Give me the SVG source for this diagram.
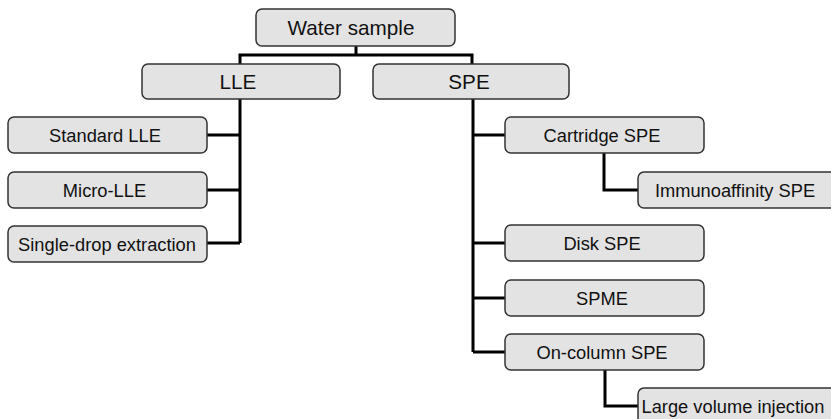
<svg xmlns="http://www.w3.org/2000/svg" width="831" height="419" viewBox="0 0 831 419">
  <style>
    .box { fill: #e3e3e3; stroke: #333333; stroke-width: 1.5; }
    .wire { fill: none; stroke: #000000; stroke-width: 3; stroke-linejoin: miter; stroke-linecap: butt; }
    text { font-family: "Liberation Sans", Arial, sans-serif; fill: #111111; text-anchor: middle; }
    .big { font-size: 20.7px; }
    .small { font-size: 18.3px; }
  </style>
  <rect width="831" height="419" fill="#ffffff"/>

  <!-- connectors -->
  <g id="connectors" class="wire">
    <path d="M356 46 V55"/>
    <path d="M240 64 V55 H472 V64"/>
    <path d="M240 99 V243"/>
    <path d="M207 135 H240"/>
    <path d="M207 190 H240"/>
    <path d="M207 243 H240"/>
    <path d="M473 99 V352"/>
    <path d="M473 135 H505"/>
    <path d="M473 243 H505"/>
    <path d="M473 298 H505"/>
    <path d="M473 352 H505"/>
    <path d="M604 153 V190 H638"/>
    <path d="M605 370 V406 H638"/>
  </g>

  <!-- root -->
  <g id="water-sample">
    <rect class="box" x="256" y="9" width="199" height="37" rx="6"/>
    <text class="big" x="351" y="35">Water sample</text>
  </g>

  <!-- level 1 -->
  <g id="lle">
    <rect class="box" x="142" y="64" width="198" height="35" rx="6"/>
    <text class="big" x="238" y="89">LLE</text>
  </g>
  <g id="spe">
    <rect class="box" x="373" y="64" width="196" height="35" rx="6"/>
    <text class="big" x="469" y="89">SPE</text>
  </g>

  <!-- LLE variants -->
  <g id="standard-lle">
    <rect class="box" x="8" y="117" width="199" height="36" rx="6"/>
    <text class="small" x="105" y="141.5">Standard LLE</text>
  </g>
  <g id="micro-lle">
    <rect class="box" x="8" y="172" width="199" height="36" rx="6"/>
    <text class="small" x="104.5" y="196.5">Micro-LLE</text>
  </g>
  <g id="single-drop">
    <rect class="box" x="8" y="226" width="199" height="36" rx="6"/>
    <text class="small" x="107" y="250.5">Single-drop extraction</text>
  </g>

  <!-- SPE variants -->
  <g id="cartridge-spe">
    <rect class="box" x="505" y="117" width="199" height="36" rx="6"/>
    <text class="small" x="602" y="141.5">Cartridge SPE</text>
  </g>
  <g id="immunoaffinity-spe">
    <rect class="box" x="638" y="172" width="200" height="36" rx="6"/>
    <text class="small" x="735" y="196.5">Immunoaffinity SPE</text>
  </g>
  <g id="disk-spe">
    <rect class="box" x="505" y="225" width="199" height="36" rx="6"/>
    <text class="small" x="602" y="249.5">Disk SPE</text>
  </g>
  <g id="spme">
    <rect class="box" x="505" y="280" width="199" height="36" rx="6"/>
    <text class="small" x="602" y="304.5">SPME</text>
  </g>
  <g id="on-column-spe">
    <rect class="box" x="505" y="334" width="199" height="36" rx="6"/>
    <text class="small" x="602" y="358.5">On-column SPE</text>
  </g>
  <g id="large-volume-injection">
    <rect class="box" x="638" y="388" width="200" height="36" rx="6"/>
    <text class="small" x="733" y="412.5">Large volume injection</text>
  </g>
</svg>
